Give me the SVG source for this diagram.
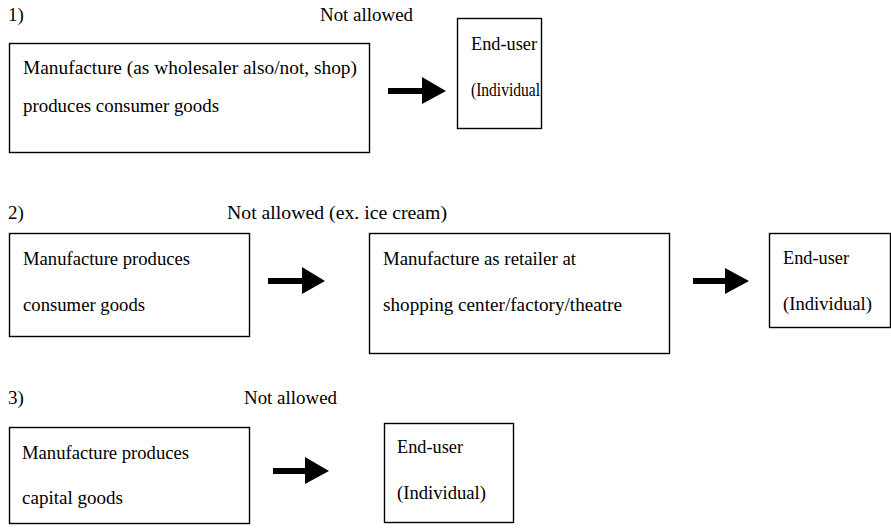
<svg xmlns="http://www.w3.org/2000/svg" width="891" height="529" viewBox="0 0 891 529">
  <style>
    text { font-family: "Liberation Serif", "Times New Roman", serif; font-size: 19px; fill: #000; }
    .box rect { fill: #fff; stroke: #000; stroke-width: 1.4; }
    .arrow { fill: #000; }
  </style>
  <rect x="0" y="0" width="891" height="529" fill="#fff"/>

  <!-- Case 1 -->
  <g id="label-1">
    <text x="8" y="21">1)</text>
    <text x="320" y="21" textLength="93" lengthAdjust="spacingAndGlyphs">Not allowed</text>
  </g>
  <g id="manufacturer-1" class="box">
    <rect x="9.5" y="43.5" width="360" height="109"/>
    <text x="23" y="74" textLength="334" lengthAdjust="spacingAndGlyphs">Manufacture (as  wholesaler also/not,  shop)</text>
    <text x="23" y="112" textLength="196" lengthAdjust="spacingAndGlyphs">produces consumer goods</text>
  </g>
  <g id="end-user-1" class="box">
    <rect x="457.5" y="18.5" width="84" height="110"/>
    <text x="471" y="50" textLength="66" lengthAdjust="spacingAndGlyphs">End-user</text>
    <text x="471" y="96" textLength="69" lengthAdjust="spacingAndGlyphs">(Individual</text>
  </g>

  <!-- Case 2 -->
  <g id="label-2">
    <text x="8" y="219">2)</text>
    <text x="227" y="219" textLength="220" lengthAdjust="spacingAndGlyphs">Not allowed (ex. ice cream)</text>
  </g>
  <g id="manufacturer-2" class="box">
    <rect x="9.5" y="233.5" width="240" height="103"/>
    <text x="23" y="265" textLength="167" lengthAdjust="spacingAndGlyphs">Manufacture produces</text>
    <text x="23" y="311" textLength="122" lengthAdjust="spacingAndGlyphs">consumer goods</text>
  </g>
  <g id="retailer-2" class="box">
    <rect x="369.5" y="233.5" width="300" height="120"/>
    <text x="383" y="265" textLength="193" lengthAdjust="spacingAndGlyphs">Manufacture as retailer at</text>
    <text x="383" y="311" textLength="239" lengthAdjust="spacingAndGlyphs">shopping center/factory/theatre</text>
  </g>
  <g id="end-user-2" class="box">
    <rect x="769.5" y="233.5" width="121" height="94"/>
    <text x="783" y="264" textLength="66" lengthAdjust="spacingAndGlyphs">End-user</text>
    <text x="783" y="310" textLength="89" lengthAdjust="spacingAndGlyphs">(Individual)</text>
  </g>

  <!-- Case 3 -->
  <g id="label-3">
    <text x="8" y="404">3)</text>
    <text x="244" y="404" textLength="93" lengthAdjust="spacingAndGlyphs">Not allowed</text>
  </g>
  <g id="manufacturer-3" class="box">
    <rect x="9.5" y="427.5" width="240" height="96"/>
    <text x="22" y="459" textLength="167" lengthAdjust="spacingAndGlyphs">Manufacture produces</text>
    <text x="22" y="504" textLength="101" lengthAdjust="spacingAndGlyphs">capital goods</text>
  </g>
  <g id="end-user-3" class="box">
    <rect x="384.5" y="423.5" width="129" height="99"/>
    <text x="397" y="453" textLength="66" lengthAdjust="spacingAndGlyphs">End-user</text>
    <text x="397" y="499" textLength="89" lengthAdjust="spacingAndGlyphs">(Individual)</text>
  </g>

  <!-- Block arrows between stages -->
  <g id="connectors" class="arrow">
    <path d="M388 88 H422 V77 L446 91 L422 104 V94 H388 Z"/>
    <path d="M268 278 H302 V267 L325 281 L302 294 V284 H268 Z"/>
    <path d="M693 278 H725 V268 L749 281 L725 294 V284 H693 Z"/>
    <path d="M273 468 H305 V457 L329 471 L305 484 V474 H273 Z"/>
  </g>
</svg>
